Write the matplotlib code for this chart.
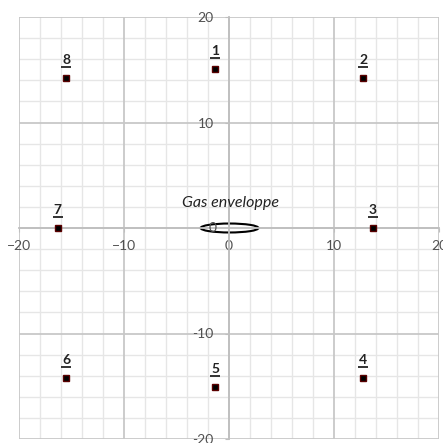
import numpy as np
import matplotlib.pyplot as plt
from matplotlib.patches import Ellipse
from matplotlib.transforms import offset_copy

# Point positions
labels = ['1', '2', '3', '4', '5', '6', '7', '8']
x_pos = [-1.3, 12.8, 13.7, 12.8, -1.3, -15.5, -16.3, -15.5]
y_pos = [15.1, 14.2, 0.0, -14.2, -15.1, -14.2, 0.0, 14.2]

major_ticks = [-20, -10, 0, 10, 20]
minor_ticks = np.arange(-20, 21, 2)

plt.rcParams['font.family'] = ['Lato', 'DejaVu Sans']

fig = plt.figure(figsize=(4.43, 4.43), dpi=100)
ax = fig.add_axes([19 / 443, 4 / 443, 420 / 443, 422 / 443])
ax.set_xlim(-20, 20)
ax.set_ylim(-20, 20)

# grid drawn by hand so the tick labels sit on top of it
for v in minor_ticks:
    major = v % 10 == 0
    c = '#c8c8c8' if major else '#e6e6e6'
    lw = 1.3 if major else 1.0
    ax.axvline(v, color=c, linewidth=lw, zorder=0.1 if major else 0)
    ax.axhline(v, color=c, linewidth=lw, zorder=0.1 if major else 0)

# axes through the origin
for side in ['top', 'right']:
    ax.spines[side].set_visible(False)
ax.spines['left'].set_position(('data', 0))
ax.spines['bottom'].set_position(('data', 0))
for side in ['left', 'bottom']:
    ax.spines[side].set_color('#bfbfbf')
    ax.spines[side].set_linewidth(1.3)

ax.set_xticks(major_ticks)
ax.set_yticks(major_ticks)
ax.set_yticklabels(['-20', '-10', '', '10', '20'])
ax.tick_params(which='major', length=3, color='#bfbfbf', labelcolor='#505050',
               labelsize=10)
ax.tick_params(axis='x', pad=6)
ax.tick_params(axis='y', pad=8)

# gas envelope
env = Ellipse((0.05, 0), 5.5, 0.85, facecolor='white', edgecolor='black',
              linewidth=1.5, zorder=2)
ax.add_patch(env)
ax.text(-1.2, 0, '0', ha='right', va='center', fontsize=10, color='#505050',
        zorder=3)
ax.text(0.15, 2.35, 'Gas enveloppe', ha='center', va='center', fontsize=11.5,
        style='italic', color='#222222')

# points and their labels
ax.plot(x_pos, y_pos, linestyle='none', marker='s', markersize=4.2,
        markerfacecolor='black', markeredgecolor='#5a0000', zorder=4)
line_tr = offset_copy(ax.transData, fig=fig, x=0, y=8, units='points')
ax.plot(x_pos, y_pos, linestyle='none', marker='_', markersize=7,
        markeredgewidth=1.3, color='#222222', transform=line_tr, zorder=5)
for lab, x, y in zip(labels, x_pos, y_pos):
    ax.annotate(lab, (x, y), xytext=(0, 8.7), textcoords='offset points',
                ha='center', va='bottom', fontsize=10, fontweight='bold',
                color='#222222', zorder=5)

fig.savefig('out.png', dpi=100)
